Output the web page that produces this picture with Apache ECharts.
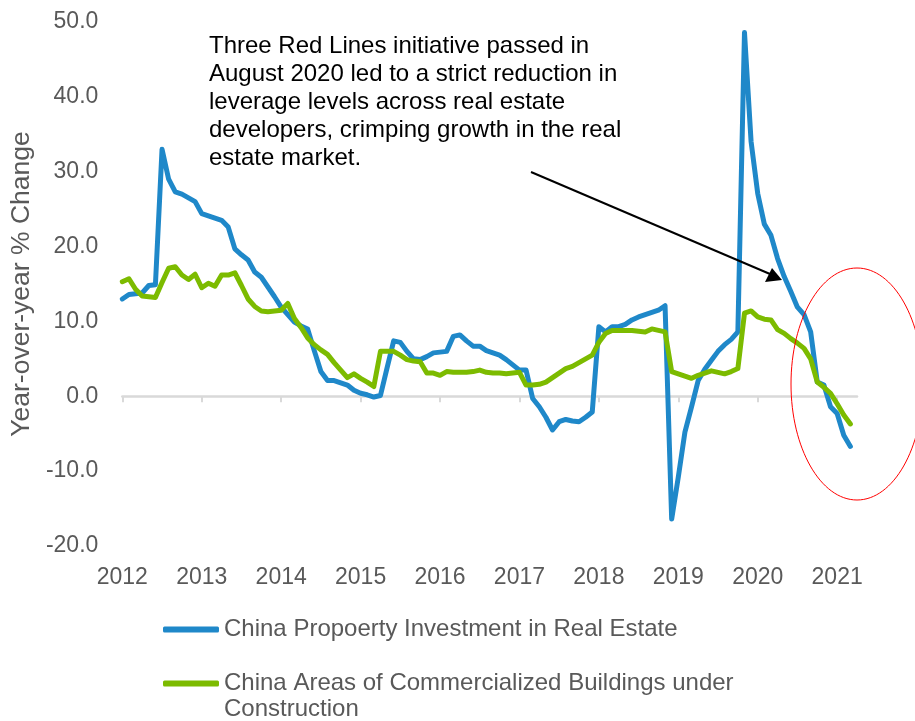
<!DOCTYPE html>
<html>
<head>
<meta charset="utf-8">
<script src="https://cdn.jsdelivr.net/npm/echarts@6/dist/echarts.min.js"></script>
<style>
  html, body { margin: 0; padding: 0; background: #fff; }
  #chart { width: 915px; height: 721px; }
</style>
</head>
<body>
<div id="chart"></div>
<script>
// ---- data ----
const yearLabels = ['2012','2013','2014','2015','2016','2017','2018','2019','2020','2021'];
const monthCount = 112; // Jan 2012 .. Apr 2021 (axis extent)
const seriesNames = ['China Propoerty Investment in Real Estate',
                     'China Areas of Commercialized Buildings under Construction'];
const legendLines = ['China Propoerty Investment in Real Estate',
                     'China Areas of Commercialized Buildings under',
                     'Construction'];

const propertyInvestment = [
  13.0, 13.6, 13.7, 13.8, 14.8, 14.9, 33.0, 29.0, 27.3, 27.0,
  26.5, 26.0, 24.4, 24.1, 23.8, 23.5, 22.6, 19.7, 18.9, 18.2,
  16.6, 15.9, 14.6, 13.3, 11.9, 10.9, 9.9, 9.4, 9.0, 6.1,
  3.3, 2.1, 2.1, 1.8, 1.5, 0.8, 0.4, 0.2, -0.1, 0.1,
  3.8, 7.4, 7.2, 6.0, 5.0, 4.9, 5.3, 5.8, 5.9, 6.0,
  8.0, 8.2, 7.4, 6.7, 6.7, 6.1, 5.8, 5.5, 4.9, 4.2,
  3.5, 3.5, -0.3, -1.4, -2.8, -4.5, -3.4, -3.1, -3.3, -3.4,
  -2.8, -2.1, 9.3, 8.6, 9.3, 9.3, 9.6, 10.2, 10.6, 10.9,
  11.2, 11.5, 12.1, -16.4, -10.8, -4.8, -1.4, 2.1, 3.6, 4.8,
  6.0, 6.9, 7.6, 8.6, 48.6, 34.0, 27.1, 23.0, 21.5, 18.4,
  16.0, 14.0, 11.9, 10.9, 8.6, 1.9, 1.5, -1.4, -2.3, -5.2,
  -6.7
];

const buildingsUnderConstruction = [
  15.3, 15.7, 14.3, 13.4, 13.3, 13.2, 15.2, 17.1, 17.3, 16.2,
  15.6, 16.3, 14.5, 15.1, 14.7, 16.2, 16.2, 16.5, 14.8, 13.0,
  12.0, 11.4, 11.3, 11.4, 11.5, 12.4, 10.4, 9.2, 7.8, 6.9,
  6.2, 5.6, 4.5, 3.5, 2.5, 3.0, 2.4, 1.9, 1.3, 6.0,
  6.0, 6.0, 5.5, 4.9, 4.7, 4.6, 3.1, 3.1, 2.8, 3.3,
  3.2, 3.2, 3.2, 3.3, 3.5, 3.2, 3.1, 3.1, 3.0, 3.1,
  3.2, 1.5, 1.5, 1.6, 1.9, 2.5, 3.1, 3.7, 4.0, 4.5,
  5.0, 5.5, 7.2, 8.4, 8.8, 8.8, 8.8, 8.8, 8.7, 8.6,
  9.0, 8.8, 8.6, 3.3, 3.0, 2.7, 2.4, 2.8, 3.1, 3.4,
  3.2, 3.0, 3.3, 3.7, 11.1, 11.4, 10.6, 10.3, 10.2, 8.9,
  8.4, 7.7, 7.1, 6.4, 5.0, 1.9, 1.2, 0.4, -1.0, -2.5,
  -3.7
];

const annotationText = 'Three Red Lines initiative passed in\nAugust 2020 led to a strict reduction in\nleverage levels across real estate\ndevelopers, crimping growth in the real\nestate market.';
const yAxisTitle = 'Year-over-year % Change';

// month categories built from the year labels
const months = [];
yearLabels.forEach(y => { for (let m = 1; m <= 12; m++) months.push(y + '-' + (m < 10 ? '0' + m : m)); });
const categories = months.slice(0, monthCount);

const BLUE = '#1f88c9';
const GREEN = '#7cbb00';
const GRAY_TEXT = '#595959';
const FONT = '"Liberation Sans", Arial, sans-serif';

const chart = echarts.init(document.getElementById('chart'), null, { renderer: 'canvas' });

const isJan = (idx) => idx % 12 === 0;

chart.setOption({
  animation: false,
  backgroundColor: '#fff',
  textStyle: { fontFamily: FONT },
  grid: { left: 122, right: 58, top: 22, bottom: 175, containLabel: false },
  xAxis: [
    {
      type: 'category',
      data: categories,
      boundaryGap: false,
      position: 'bottom',
      axisLine: { show: true, onZero: true, lineStyle: { color: '#d9d9d9', width: 2.5 } },
      axisTick: { show: true, length: 6, interval: (i) => isJan(i), lineStyle: { color: '#d9d9d9', width: 2 } },
      axisLabel: { show: false },
      splitLine: { show: false }
    },
    {
      type: 'category',
      data: categories,
      boundaryGap: false,
      position: 'bottom',
      axisLine: { show: false, onZero: false },
      axisTick: { show: false },
      axisLabel: {
        show: true,
        interval: (i) => isJan(i),
        formatter: (v) => v.slice(0, 4),
        color: GRAY_TEXT,
        fontSize: 23,
        fontFamily: FONT,
        margin: 20
      },
      splitLine: { show: false }
    }
  ],
  yAxis: {
    type: 'value',
    min: -20,
    max: 50,
    interval: 10,
    axisLine: { show: false },
    axisTick: { show: false },
    splitLine: { show: false },
    axisLabel: {
      formatter: (v) => v.toFixed(1),
      color: GRAY_TEXT,
      fontSize: 23,
      fontFamily: FONT,
      margin: 24
    },
    name: yAxisTitle,
    nameLocation: 'middle',
    nameRotate: 90,
    nameGap: 78,
    nameTextStyle: { color: GRAY_TEXT, fontSize: 26.5, fontFamily: FONT }
  },
  legend: [
    {
      orient: 'vertical',
      left: 163,
      top: 616,
      padding: 0,
      itemWidth: 56,
      itemHeight: 6,
      icon: 'roundRect',
      data: [{ name: seriesNames[0], itemStyle: { color: BLUE } }],
      formatter: () => legendLines[0],
      textStyle: { color: GRAY_TEXT, fontSize: 24, lineHeight: 27, fontFamily: FONT }
    },
    {
      orient: 'vertical',
      left: 163,
      top: 670,
      padding: 0,
      itemWidth: 56,
      itemHeight: 6,
      icon: 'roundRect',
      data: [{ name: seriesNames[1], itemStyle: { color: GREEN } }],
      formatter: () => legendLines[1],
      textStyle: { color: GRAY_TEXT, fontSize: 24, lineHeight: 27, fontFamily: FONT }
    }
  ],
  series: [
    {
      name: seriesNames[0],
      type: 'line',
      xAxisIndex: 0,
      data: propertyInvestment,
      symbol: 'none',
      lineStyle: { color: BLUE, width: 5, cap: 'round', join: 'round' },
      itemStyle: { color: BLUE },
      z: 2
    },
    {
      name: seriesNames[1],
      type: 'line',
      xAxisIndex: 0,
      data: buildingsUnderConstruction,
      symbol: 'none',
      lineStyle: { color: GREEN, width: 5, cap: 'round', join: 'round' },
      itemStyle: { color: GREEN },
      z: 3
    }
  ],
  graphic: [
    {
      type: 'text',
      left: 224,
      top: 696,
      style: {
        text: legendLines[2],
        fill: GRAY_TEXT,
        fontSize: 24,
        lineHeight: 27,
        fontFamily: FONT
      },
      z: 10
    },
    {
      type: 'text',
      left: 209,
      top: 32,
      style: {
        text: annotationText,
        fill: '#000',
        fontSize: 24,
        lineHeight: 28,
        fontFamily: FONT
      },
      z: 10
    },
    {
      type: 'line',
      shape: { x1: 531, y1: 172, x2: 770, y2: 274 },
      style: { stroke: '#000', lineWidth: 2 },
      z: 10
    },
    {
      type: 'polygon',
      shape: { points: [[782, 280], [765, 282], [772, 268]] },
      style: { fill: '#000' },
      z: 10
    },
    {
      type: 'ellipse',
      shape: { cx: 857, cy: 384, rx: 66, ry: 116 },
      style: { fill: 'none', stroke: '#ff0000', lineWidth: 1 },
      z: 10
    }
  ]
});
</script>
</body>
</html>
